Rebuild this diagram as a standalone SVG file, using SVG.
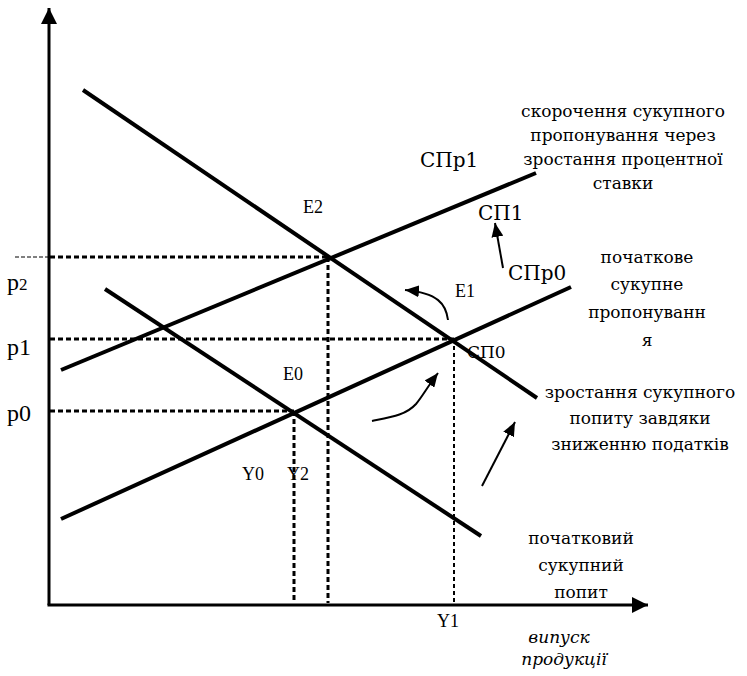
<svg xmlns="http://www.w3.org/2000/svg" width="747" height="676" viewBox="0 0 747 676">
<style>
.t{font-family:"Liberation Serif","Times New Roman",serif;fill:#000;}
.c{font-family:"DejaVu Serif",serif;fill:#000;}
.lbl{font-size:17px;text-anchor:middle;}
.curve{stroke:#000;stroke-width:4;fill:none;}
.ax{stroke:#000;stroke-width:3;fill:none;}
.dash{stroke:#000;stroke-width:3;stroke-dasharray:5 3;fill:none;}
.dthin{stroke:#000;stroke-width:2;stroke-dasharray:4 3;fill:none;}
.arr{stroke:#000;stroke-width:2;fill:none;}
</style>
<defs>
<marker id="axh" markerUnits="userSpaceOnUse" markerWidth="18" markerHeight="18" refX="16" refY="8" orient="auto" viewBox="0 0 18 16">
<path d="M0,0 L16,8 L0,16 Z" fill="#000"/>
</marker>
<marker id="ah" markerUnits="userSpaceOnUse" markerWidth="16" markerHeight="12" refX="14" refY="6" orient="auto" viewBox="0 0 16 12">
<path d="M0,0 L14,6 L0,12 Z" fill="#000"/>
</marker>
</defs>
<g id="axes">
<line class="ax" x1="49" y1="605" x2="49" y2="8" marker-end="url(#axh)"/>
<line class="ax" x1="47.5" y1="605" x2="648" y2="605" marker-end="url(#axh)"/>
</g>
<g id="guides">
<line stroke="#000" stroke-width="1" stroke-dasharray="4 2" x1="15" y1="257" x2="48" y2="257"/>
<line class="dash" x1="50" y1="257" x2="328" y2="257"/>
<line class="dash" x1="328" y1="257" x2="328" y2="603"/>
<line class="dash" x1="50" y1="339" x2="454" y2="339"/>
<line class="dthin" x1="454" y1="339" x2="454" y2="603"/>
<line class="dash" x1="50" y1="411" x2="294" y2="411"/>
<line class="dash" x1="294" y1="411" x2="294" y2="603"/>
</g>
<g id="curves">
<line id="AD1" class="curve" x1="83" y1="90" x2="537" y2="398"/>
<line id="AD0" class="curve" x1="105" y1="289" x2="481" y2="536"/>
<line id="AS1" class="curve" x1="61" y1="370" x2="536" y2="173"/>
<line id="AS0" class="curve" x1="61" y1="519" x2="571" y2="287"/>
</g>
<g id="connectors">
<line class="arr" x1="503" y1="268" x2="495" y2="223" marker-end="url(#ah)"/>
<line class="arr" x1="482" y1="486" x2="515" y2="422" marker-end="url(#ah)"/>
<path class="arr" d="M448,320 C446,304 438,293 405,290" marker-end="url(#ah)"/>
<path class="arr" d="M372,421 C392,417 406,415 416,404 C422,397 428,386 438,373" marker-end="url(#ah)"/>
</g>
<g id="axis-labels" class="t">
<text x="7" y="290" font-size="24">p<tspan font-size="17">2</tspan></text>
<text x="7" y="355" font-size="24">p1</text>
<text x="7" y="421" font-size="24">p0</text>
<text x="242" y="480" font-size="18">Y0</text>
<text x="287" y="480" font-size="18">Y2</text>
<text x="437" y="627" font-size="18">Y1</text>
</g>
<g id="points">
<text class="t" x="303" y="213" font-size="18">E2</text>
<text class="t" x="455" y="297" font-size="18">E1</text>
<text class="t" x="283" y="380" font-size="18">E0</text>
<text class="c" x="420" y="167" font-size="20">СПр1</text>
<text class="c" x="478" y="220" font-size="20">СП1</text>
<text class="c" x="508" y="280" font-size="20">СПр0</text>
<text class="c" x="467" y="358" font-size="17">СП0</text>
</g>
<g id="note-supply-shift" class="c lbl">
<text x="623" y="117">скорочення сукупного</text>
<text x="623" y="141">пропонування через</text>
<text x="623" y="165">зростання процентної</text>
<text x="623" y="189">ставки</text>
</g>
<g id="note-initial-supply" class="c lbl">
<text x="647" y="263">початкове</text>
<text x="647" y="290">сукупне</text>
<text x="647" y="318">пропонуванн</text>
<text x="647" y="346">я</text>
</g>
<g id="note-demand-shift" class="c lbl">
<text x="640" y="398">зростання сукупного</text>
<text x="640" y="424">попиту завдяки</text>
<text x="640" y="450">зниженню податків</text>
</g>
<g id="note-initial-demand" class="c lbl">
<text x="581" y="544">початковий</text>
<text x="581" y="571">сукупний</text>
<text x="581" y="598">попит</text>
</g>
<g id="x-axis-title" class="c lbl" font-style="italic" font-size="16">
<text x="559" y="643">випуск</text>
<text x="564" y="665">продукції</text>
</g>
</svg>
